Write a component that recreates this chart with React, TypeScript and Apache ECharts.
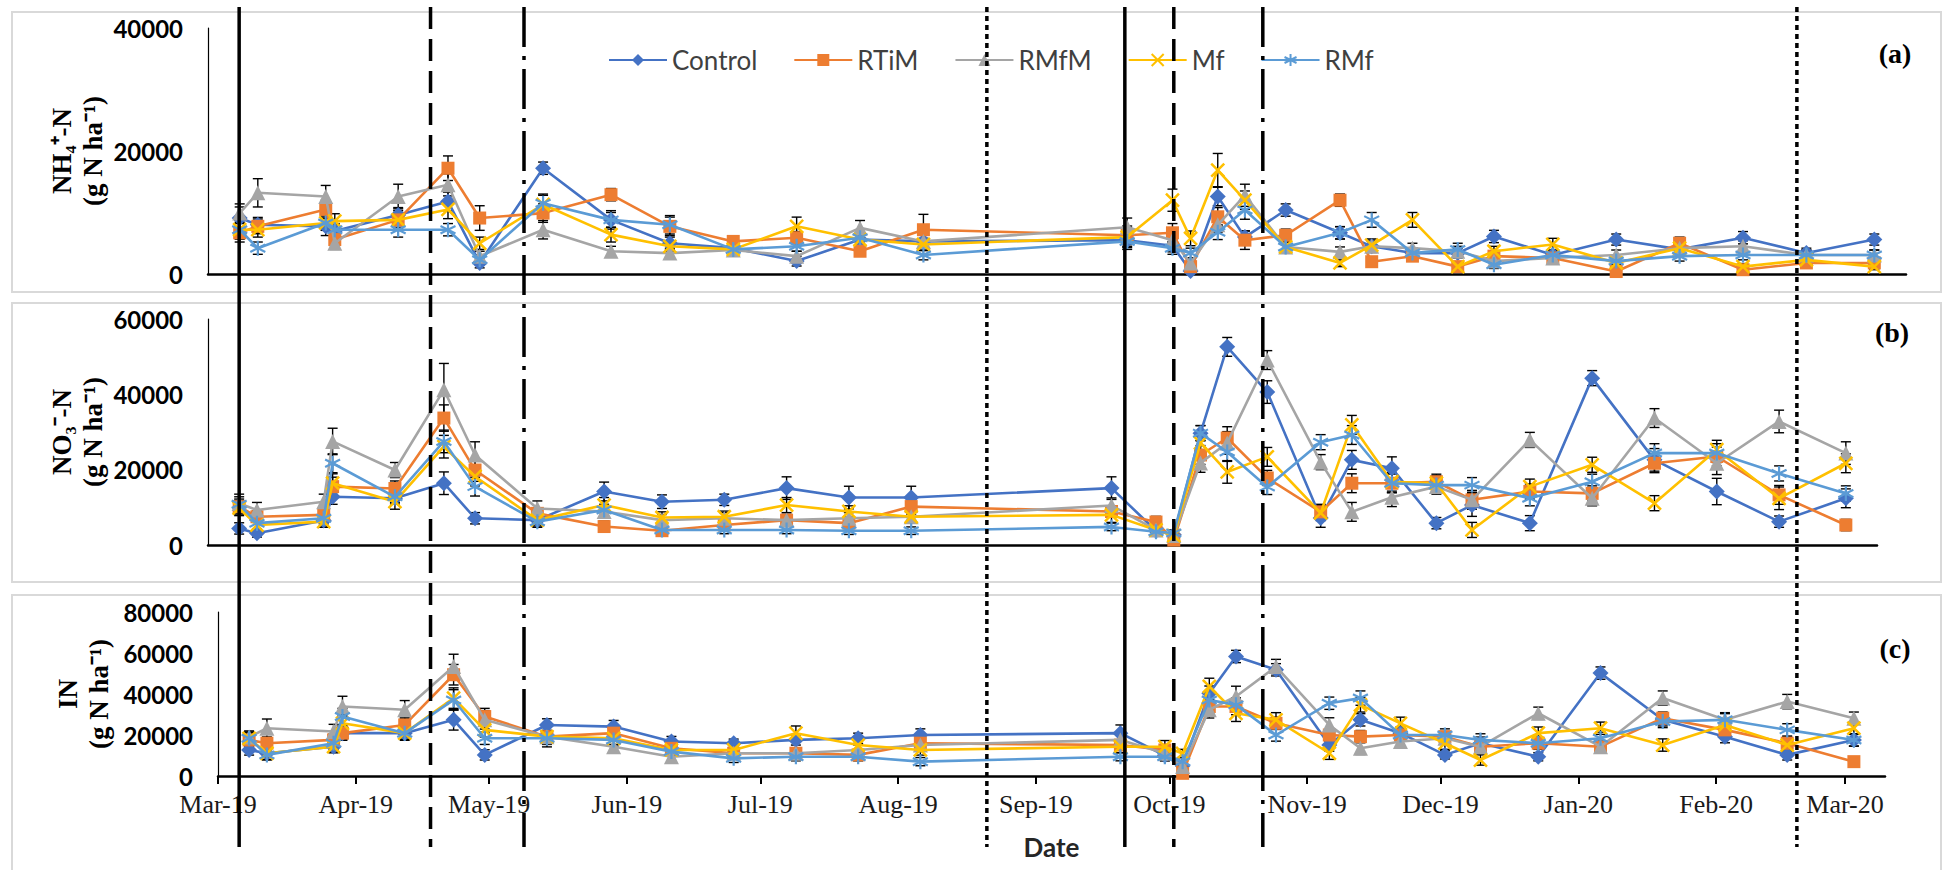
import React, { useEffect, useRef } from 'react';
import * as echarts from 'echarts';

// ---------- data ----------
const sampleDates = ['2019-03-08','2019-03-12','2019-03-27','2019-03-29','2019-04-12','2019-04-23','2019-04-30','2019-05-14','2019-05-29','2019-06-11','2019-06-25','2019-07-09','2019-07-23','2019-08-06','2019-09-20','2019-09-30','2019-10-04','2019-10-10','2019-10-16','2019-10-25','2019-11-06','2019-11-13','2019-11-22','2019-12-02','2019-12-10','2019-12-23','2020-01-06','2020-01-20','2020-02-03','2020-02-17','2020-03-03'];

const monthTickDates = ['2019-03-01','2019-04-01','2019-05-01','2019-06-01','2019-07-01','2019-08-01','2019-09-01','2019-10-01','2019-11-01','2019-12-01','2020-01-01','2020-02-01','2020-03-01'];
const monthAbbr = ['Jan','Feb','Mar','Apr','May','Jun','Jul','Aug','Sep','Oct','Nov','Dec'];
const axisStartDate = '2019-03-01';
const axisEndDate = '2020-03-10';

const seriesNames = ['Control','RTiM','RMfM','Mf','RMf'];

// NH4+-N (g N ha-1)
const nh4Control = [9100,8000,7750,7000,9600,11800,1800,17200,8800,5000,4200,2100,5600,5300,5500,4600,500,12600,6000,10400,6700,4500,3400,3400,6100,3100,5600,4000,5900,3400,5600];
const nh4RTiM = [6700,7750,10500,5600,8800,17200,9100,9900,12900,7750,5300,5900,3700,7200,6300,6700,1200,9300,5500,6300,12000,2000,2900,1200,2900,2600,400,5000,700,1800,1800];
const nh4RMfM = [9900,13200,12600,5000,12600,14500,2900,7200,3700,3400,3900,2900,7500,5300,7600,5500,1800,8000,12800,4400,3600,4500,4200,3700,2100,2600,3100,4200,4500,3100,3100];
const nh4Mf = [7200,7200,8300,8600,8800,10500,5000,11300,6400,4500,4000,7750,5600,4800,6000,12000,5800,16900,12000,4400,1800,4700,8800,1200,3700,4800,1800,4200,1200,2300,1200];
const nh4RMf = [7200,4200,8300,7200,7200,7200,2300,11500,8800,8000,4000,4500,5900,3100,5300,4200,3400,6800,10400,4400,6700,8800,3400,4000,1500,3100,2100,2900,3100,3100,3100];

// NO3--N (g N ha-1)
const no3Control = [4400,3100,6500,12800,12400,16400,7100,6600,14200,11500,12000,15100,12600,12600,15100,3800,2700,29700,52600,40600,7200,22600,20400,5800,10600,5800,44300,22600,14200,6200,12400];
const no3RTiM = [10200,7500,8000,15500,15000,33700,19900,8400,4900,3800,5300,6600,5800,10200,8900,6100,1300,23900,28400,17800,8800,16400,16400,16800,12000,14200,13700,21700,23500,13300,5300];
const no3RMfM = [11000,9300,11500,27500,19900,41200,23900,9700,8900,6600,7100,6600,7100,7500,10500,4000,2500,21800,27100,49100,22000,8800,12700,15500,12000,27900,12400,33700,21700,32800,24400];
const no3Mf = [9800,5300,6200,16400,11500,26100,18200,6600,10600,7300,7500,10600,8900,7500,8000,4000,2500,27100,19400,23400,8500,31900,16800,16400,4000,15500,21300,11100,25300,12400,21700];
const no3RMf = [10800,5800,7100,21700,12800,27500,15500,6200,9300,4000,4000,4000,3800,3800,4800,3500,3200,29700,24700,15400,27300,29200,16400,15900,15900,12400,16800,24400,24400,19000,13700];

// IN (g N ha-1)
const inControl = [12700,11100,14300,20900,20900,27400,10300,24900,24100,16800,16000,17600,18400,20000,20900,10000,5000,40400,58300,51800,15100,27400,20900,10300,16000,9400,50200,27400,19200,10300,17600];
const inRTiM = [17600,16000,17600,20900,24900,49400,29000,19200,20900,13500,11100,11100,10300,16000,15100,12700,1300,33900,33900,25700,20000,19200,20000,19200,14300,16000,14300,28200,22500,16000,7000];
const inRMfM = [19000,23300,21700,33900,32300,53400,27400,19200,14300,9400,11100,11100,12700,15100,17600,11100,4600,32300,38800,53400,24900,13500,16800,18400,14300,30600,14300,38000,27400,36300,28200];
const inMf = [18400,11100,14300,25700,20900,38000,22500,19200,18400,12700,12700,20900,15100,12700,14300,14300,11000,43700,30600,27400,11100,34700,25700,16000,7800,20900,23300,15100,24900,15100,23300];
const inRMf = [18400,10300,16000,29000,20900,37100,18400,18400,17600,11900,8600,9400,9400,7000,9400,9400,7000,37100,34700,20000,35500,38000,20000,20000,17600,16000,18400,26600,27400,22500,17600];

// standard errors
const nh4ErrControl = [1800,1200,1500,1000,1200,1500,800,1000,1500,1000,800,800,1000,1000,1500,1000,800,1500,1000,1000,1000,800,800,800,1000,800,900,800,1000,800,900];
const nh4ErrRTiM = [1500,1200,1500,1000,1500,2000,2000,1500,1000,1500,800,1000,800,2500,1500,1500,800,1500,1500,1000,1000,800,800,800,800,800,500,1000,500,800,500];
const nh4ErrRMfM = [1500,2300,1800,1000,2000,1800,800,1500,800,800,800,800,1200,1000,1500,1000,800,1200,1800,800,800,1000,800,800,800,800,800,800,900,800,800];
const nh4ErrMf = [1500,1200,1200,1200,1200,1500,1000,1500,1200,800,800,1500,1000,1000,1500,1800,1200,2700,1500,800,600,1000,1200,500,800,1000,600,800,500,600,500];
const nh4ErrRMf = [1500,1000,1200,1000,1200,1000,800,1500,1200,1500,800,800,1000,800,1000,1000,800,1200,1500,800,1000,1200,800,1000,600,800,600,800,800,800,800];

const no3ErrControl = [1500,1000,1500,2000,1500,3000,1500,1500,2500,1800,1500,3000,3000,3000,3000,1500,1000,2000,2500,3000,2500,2500,3000,1500,3000,2000,2000,3000,3500,1500,2500];
const no3ErrRTiM = [2000,1500,1500,2500,2000,3500,3000,1500,1500,1200,1200,1500,1200,2000,1500,1500,800,2500,3000,2000,2000,2500,2500,2000,2500,2000,2000,2500,2500,2500,1500];
const no3ErrRMfM = [2500,2000,2000,3500,2000,7000,3500,2000,1500,1500,1500,1500,1500,1500,2000,1500,1000,2500,3000,2500,2000,2500,2500,2000,2000,2000,2000,2500,3000,3000,3000];
const no3ErrMf = [2000,1500,1500,2500,2000,3000,2500,1500,2000,1500,1500,2000,1500,1500,2000,1500,1000,2500,3000,2500,2000,2500,2500,2000,2000,2000,2000,2000,2500,3000,2500];
const no3ErrRMf = [2000,1500,1500,2500,1500,3000,2500,1500,1500,1000,1000,1000,1000,1000,1000,1000,800,2000,2500,2000,2000,2500,2500,2000,2000,2000,2000,2500,2500,2000,2000];

const inErrControl = [2500,2000,2500,3000,3000,5000,2500,3000,3000,2500,2000,2500,2500,3000,4000,2500,2000,3500,3000,3000,3000,3000,3000,2000,3000,2000,3000,3000,3000,2500,3000];
const inErrRTiM = [3000,3000,3000,3500,3500,5000,4000,3000,3000,2000,2000,2000,2000,3000,2500,2500,1500,3500,4000,3000,3000,3000,3000,2500,3000,3000,2500,3000,3000,3000,2000];
const inErrRMfM = [3000,4500,3500,5000,4500,6000,4500,5000,3000,2500,2500,2500,2500,2500,3000,2500,2000,4000,5000,3500,3500,3000,3000,3000,3000,3000,3000,3500,3500,3500,3000];
const inErrMf = [3000,3000,3000,4000,3500,5000,3500,3000,3000,2500,2500,3500,2500,2500,3000,3000,2000,4000,4000,3500,3000,3500,3000,3000,2500,3000,3000,3000,3000,3000,3000];
const inErrRMf = [3000,2500,3000,4000,3000,5000,3000,3000,3000,2000,2000,2000,2000,2000,2000,2000,2000,3500,3500,3000,3000,3500,3000,3000,3000,2500,3000,3000,3000,3000,3000];

// management events (vertical reference lines)
const eventDates = ['2019-03-08','2019-04-20','2019-05-11','2019-08-23','2019-09-23','2019-10-04','2019-10-24','2020-02-21'];
const eventStyles = ['solid','dashed','dashdot','dotted','solid','dashed','dashdot','dotted'];

const panelLetters = ['(a)','(b)','(c)'];
const yTitles = ['NH\u2084\u207A-N\n(g N ha\u207B\u00B9)', 'NO\u2083\u207B-N\n(g N ha\u207B\u00B9)', 'IN\n(g N ha\u207B\u00B9)'];
const yMaxes = [40000, 60000, 80000];

// ---------- styles ----------
const colors = ['#4472C4','#ED7D31','#A5A5A5','#FFC000','#5B9BD5'];
const symbols = ['diamond','rect','triangle','path://M0,0L10,10M10,0L0,10','path://M5,0L5,10M0.7,2.5L9.3,7.5M0.7,7.5L9.3,2.5'];
const symbolSizes = [16, 13, 15, 13, 15];
const symbolStroke = [0, 0, 0, 2.5, 2.2];

const grids = [
  { left: 208, top: 28, width: 1698, height: 246 },
  { left: 208, top: 319, width: 1669, height: 226 },
  { left: 218, top: 612, width: 1667, height: 164 },
];
const boxes = [
  { x: 12, y: 12, w: 1929, h: 280 },
  { x: 12, y: 303, w: 1929, h: 279 },
  { x: 12, y: 595, w: 1929, h: 290 },
];

const toTs = (s: string) => {
  const [y, m, d] = s.split('-').map(Number);
  return new Date(y, m - 1, d).getTime();
};

const panelValues = [
  [nh4Control, nh4RTiM, nh4RMfM, nh4Mf, nh4RMf],
  [no3Control, no3RTiM, no3RMfM, no3Mf, no3RMf],
  [inControl, inRTiM, inRMfM, inMf, inRMf],
];
const panelErrors = [
  [nh4ErrControl, nh4ErrRTiM, nh4ErrRMfM, nh4ErrMf, nh4ErrRMf],
  [no3ErrControl, no3ErrRTiM, no3ErrRMfM, no3ErrMf, no3ErrRMf],
  [inErrControl, inErrRTiM, inErrRMfM, inErrMf, inErrRMf],
];

function errRender(params: any, api: any) {
  const x = api.value(0);
  const y = api.value(1);
  const e = api.value(2);
  const top = api.coord([x, y + e]);
  const bot = api.coord([x, Math.max(0, y - e)]);
  const cap = 5;
  const st = { stroke: '#000', lineWidth: 1.4 };
  return {
    type: 'group',
    children: [
      { type: 'line', shape: { x1: top[0], y1: top[1], x2: bot[0], y2: bot[1] }, style: st },
      { type: 'line', shape: { x1: top[0] - cap, y1: top[1], x2: top[0] + cap, y2: top[1] }, style: st },
      { type: 'line', shape: { x1: bot[0] - cap, y1: bot[1], x2: bot[0] + cap, y2: bot[1] }, style: st },
    ],
  };
}

function buildOption() {
  const monthTs = monthTickDates.map(toTs);
  const xAxis = grids.map((_, i) => ({
    type: 'value',
    gridIndex: i,
    min: toTs(axisStartDate),
    max: toTs(axisEndDate),
    axisLine: { show: true, onZero: false, lineStyle: { color: '#000', width: 2.5 } },
    axisTick: { show: i === 2, length: 8, inside: false, lineStyle: { color: '#000', width: 2 }, customValues: monthTs },
    minorTick: { show: false },
    splitLine: { show: false },
    axisLabel: {
      show: i === 2,
      customValues: monthTs,
      margin: 15,
      fontFamily: 'Liberation Serif',
      fontSize: 26,
      color: '#1a1a1a',
      formatter: (v: number) => {
        const d = new Date(v);
        return monthAbbr[d.getMonth()] + '-' + String(d.getFullYear()).slice(2);
      },
    },
    name: i === 2 ? 'Date' : '',
    nameLocation: 'middle',
    nameGap: 58,
    nameMoveOverlap: false,
    nameTextStyle: { fontFamily: 'Lato', fontWeight: 'bold', fontSize: 26, color: '#262626' },
  }));
  const yAxis = grids.map((_, i) => ({
    type: 'value',
    gridIndex: i,
    min: 0,
    max: yMaxes[i],
    interval: 20000,
    axisLine: { show: true, lineStyle: { color: '#000', width: 1.2 } },
    axisTick: { show: false },
    splitLine: { show: false },
    axisLabel: {
      fontFamily: 'Lato',
      fontWeight: 'bold',
      fontSize: 24,
      color: '#000',
      margin: 25,
      formatter: (v: number) => String(v),
    },
    name: yTitles[i],
    nameLocation: 'middle',
    nameRotate: 90,
    nameGap: i === 2 ? 104 : 100,
    nameMoveOverlap: false,
    nameTextStyle: { fontFamily: 'Liberation Serif', fontWeight: 'bold', fontSize: 27, lineHeight: 31, color: '#000' },
  }));

  const series: any[] = [];
  for (let p = 0; p < 3; p++) {
    for (let s = 0; s < 5; s++) {
      const vals = panelValues[p][s];
      const errs = panelErrors[p][s];
      series.push({
        type: 'custom',
        name: 'err-' + p + '-' + s,
        xAxisIndex: p,
        yAxisIndex: p,
        z: 2,
        silent: true,
        encode: { x: 0, y: 1 },
        data: sampleDates.map((d, k) => [toTs(d), vals[k], errs[k]]),
        renderItem: errRender,
      });
    }
    for (let s = 0; s < 5; s++) {
      const vals = panelValues[p][s];
      series.push({
        type: 'line',
        name: seriesNames[s],
        xAxisIndex: p,
        yAxisIndex: p,
        z: 3 + s,
        data: sampleDates.map((d, k) => [toTs(d), vals[k]]),
        symbol: symbols[s],
        symbolSize: symbolSizes[s],
        showSymbol: true,
        showAllSymbol: true,
        lineStyle: { color: colors[s], width: 2.6 },
        itemStyle: { color: colors[s], borderColor: colors[s], borderWidth: symbolStroke[s] },
        emphasis: { disabled: true },
      });
    }
  }

  return {
    animation: false,
    backgroundColor: '#ffffff',
    grid: grids.map((g) => ({ ...g, outerBoundsMode: 'none', containLabel: false })),
    xAxis,
    yAxis,
    legend: {
      show: true,
      data: seriesNames,
      left: 603,
      top: 42,
      orient: 'horizontal',
      itemWidth: 58,
      itemHeight: 15,
      itemGap: 36,
      textStyle: { fontFamily: 'Lato', fontSize: 26, color: '#404040' },
    },
    series,
  };
}

export default function App() {
  const ref = useRef<HTMLDivElement>(null);
  useEffect(() => {
    const chart = echarts.init(ref.current as HTMLDivElement, null, { renderer: 'svg' });
    chart.setOption(buildOption() as any);

    const graphic: any[] = [];
    boxes.forEach((b) => {
      graphic.push({
        type: 'rect',
        z: 0,
        silent: true,
        shape: { x: b.x, y: b.y, width: b.w, height: b.h },
        style: { fill: 'none', stroke: '#d9d9d9', lineWidth: 2 },
      });
    });
    const dashMap: Record<string, number[] | null> = {
      solid: null,
      dashed: [22, 10],
      dashdot: [40, 9, 4, 9],
      dotted: [5, 4],
    };
    eventDates.forEach((d, i) => {
      const x = chart.convertToPixel({ xAxisIndex: 1 } as any, toTs(d)) as unknown as number;
      const dash = dashMap[eventStyles[i]];
      graphic.push({
        type: 'line',
        z: 100,
        silent: true,
        shape: { x1: x, y1: 7, x2: x, y2: 847 },
        style: { stroke: '#000', lineWidth: 3.5, lineDash: dash || undefined },
      });
    });
    const letterPos = [[1895, 53], [1892, 332], [1895, 648]];
    panelLetters.forEach((t, i) => {
      graphic.push({
        type: 'text',
        z: 100,
        silent: true,
        x: letterPos[i][0],
        y: letterPos[i][1],
        style: {
          text: t,
          fontFamily: 'Liberation Serif',
          fontWeight: 'bold',
          fontSize: 28,
          fill: '#000',
          align: 'center',
          verticalAlign: 'middle',
        },
      });
    });
    chart.setOption({ graphic });
    return () => chart.dispose();
  }, []);
  return (
    <div
      ref={ref}
      style={{ position: 'fixed', left: 0, top: 0, width: 1944, height: 870, background: '#fff' }}
    />
  );
}
